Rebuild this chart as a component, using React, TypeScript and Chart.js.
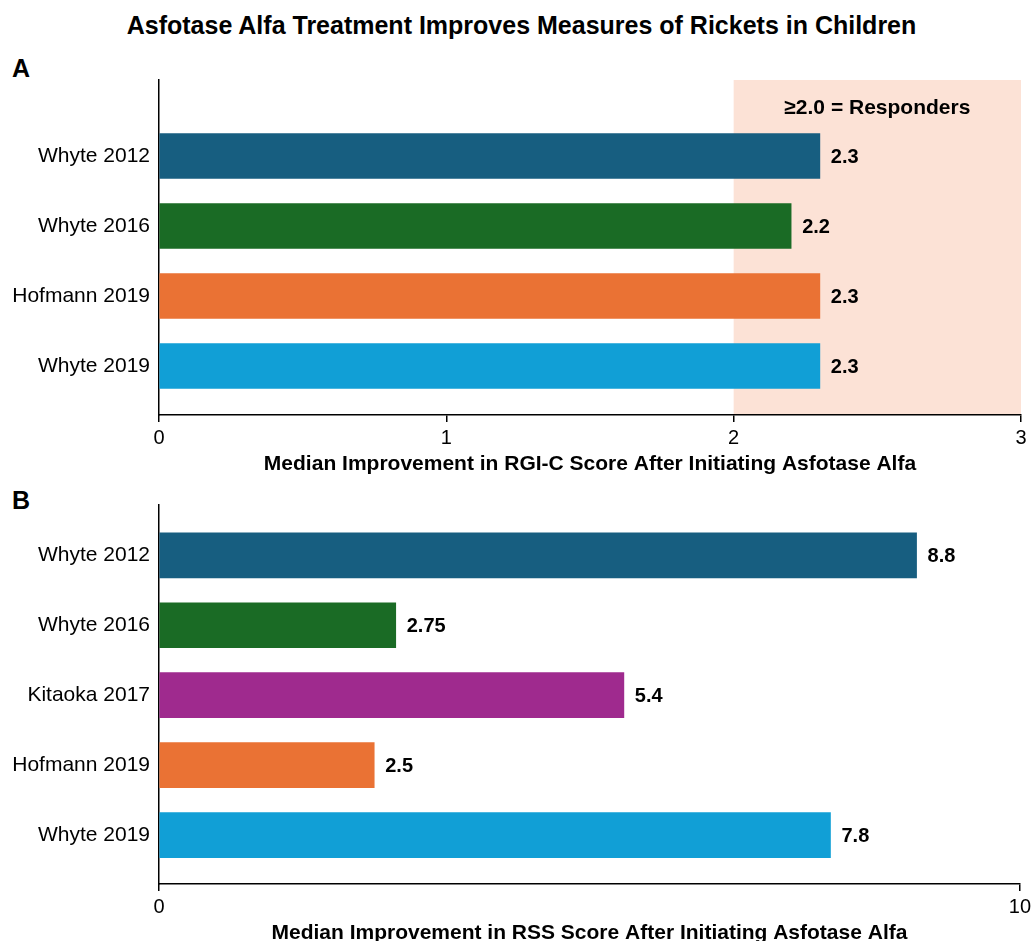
import React, { useEffect, useRef } from "react";
import { Chart, registerables } from "chart.js";

Chart.register(...registerables);

const pageTitle = "Asfotase Alfa Treatment Improves Measures of Rickets in Children";

const categoriesA = ["Whyte 2012", "Whyte 2016", "Hofmann 2019", "Whyte 2019"];
const valuesA = [2.3, 2.2, 2.3, 2.3];
const colorsA = ["#175e80", "#1a6b25", "#ea7234", "#119fd6"];
const xTicksA = [0, 1, 2, 3];
const axisTitleA = "Median Improvement in RGI-C Score After Initiating Asfotase Alfa";
const responderThreshold = 2.0;
const responderLabel = "≥2.0 = Responders";

const categoriesB = ["Whyte 2012", "Whyte 2016", "Kitaoka 2017", "Hofmann 2019", "Whyte 2019"];
const valuesB = [8.8, 2.75, 5.4, 2.5, 7.8];
const colorsB = ["#175e80", "#1a6b25", "#9f2a8e", "#ea7234", "#119fd6"];
const xTicksB = [0, 10];
const axisTitleB = "Median Improvement in RSS Score After Initiating Asfotase Alfa";

const FONT = '"Liberation Sans", Arial, Helvetica, sans-serif';

function valueLabelPlugin(values: number[]) {
  return {
    id: "valueLabels",
    afterDatasetsDraw(chart: any) {
      const ctx = chart.ctx;
      const meta = chart.getDatasetMeta(0);
      ctx.save();
      ctx.font = `bold 20px ${FONT}`;
      ctx.fillStyle = "#000";
      ctx.textAlign = "left";
      ctx.textBaseline = "middle";
      meta.data.forEach((bar: any, i: number) => {
        ctx.fillText(String(values[i]), bar.x + 11, bar.y + 1.5);
      });
      ctx.restore();
    },
  };
}

const responderPlugin = {
  id: "responders",
  beforeDraw(chart: any) {
    const { ctx, chartArea } = chart;
    const xs = chart.scales.x;
    const x0 = xs.getPixelForValue(responderThreshold);
    const x1 = xs.getPixelForValue(xs.max);
    ctx.save();
    ctx.fillStyle = "#fce2d6";
    ctx.fillRect(x0, chartArea.top, x1 - x0, chartArea.bottom - chartArea.top);
    ctx.restore();
  },
  afterDraw(chart: any) {
    const { ctx, chartArea } = chart;
    const xs = chart.scales.x;
    const x0 = xs.getPixelForValue(responderThreshold);
    const x1 = xs.getPixelForValue(xs.max);
    ctx.save();
    ctx.font = `bold 21px ${FONT}`;
    ctx.fillStyle = "#000";
    ctx.textAlign = "center";
    ctx.textBaseline = "middle";
    ctx.fillText(responderLabel, (x0 + x1) / 2, chartArea.top + 28);
    ctx.restore();
  },
};

function makeConfig(
  cats: string[],
  vals: number[],
  colors: string[],
  xTicks: number[],
  yMin: number,
  yMax: number,
  axisTitle: string,
  extra: any[]
): any {
  return {
    type: "bar",
    data: {
      datasets: [
        {
          data: vals.map((v, i) => ({ x: v, y: i })),
          backgroundColor: colors,
          borderWidth: 0,
          barThickness: 45,
        },
      ],
    },
    options: {
      indexAxis: "y",
      responsive: false,
      animation: false,
      devicePixelRatio: 1,
      layout: { padding: { top: 8, right: 14, left: 0, bottom: 0 } },
      plugins: { legend: { display: false }, tooltip: { enabled: false } },
      scales: {
        x: {
          type: "linear",
          offset: false,
          min: xTicks[0],
          max: xTicks[xTicks.length - 1],
          afterBuildTicks: (s: any) => {
            s.ticks = xTicks.map((v) => ({ value: v }));
          },
          afterFit: (s: any) => {
            s.height = 67;
          },
          grid: { offset: false, drawOnChartArea: false, drawTicks: true, tickLength: 7, color: "#000", lineWidth: 1.5 },
          border: { display: true, color: "#000", width: 1.5 },
          ticks: { font: { size: 20, family: FONT }, color: "#000", padding: 4, maxRotation: 0, autoSkip: false },
          title: {
            display: true,
            text: axisTitle,
            color: "#000",
            font: { size: 21, weight: "bold", family: FONT },
            padding: { top: 0, bottom: 5 },
          },
        },
        y: {
          type: "linear",
          offset: false,
          reverse: true,
          min: yMin,
          max: yMax,
          afterBuildTicks: (s: any) => {
            s.ticks = cats.map((_, i) => ({ value: i }));
          },
          afterFit: (s: any) => {
            s.width = 159;
            s.paddingTop = 0;
            s.paddingBottom = 0;
          },
          grid: { offset: false, display: false, drawTicks: false },
          border: { display: true, color: "#000", width: 1.5 },
          ticks: {
            callback: (v: any) => cats[v] ?? "",
            font: { size: 21, family: FONT },
            color: "#000",
            padding: 9,
            autoSkip: false,
          },
        },
      },
    },
    plugins: extra,
  };
}

function BarPanel(props: { config: () => any; top: number; height: number }) {
  const ref = useRef<HTMLCanvasElement | null>(null);
  useEffect(() => {
    if (!ref.current) return;
    const chart = new Chart(ref.current, props.config());
    return () => chart.destroy();
  }, []);
  return (
    <canvas
      ref={ref}
      width={1035}
      height={props.height}
      style={{ position: "absolute", left: 0, top: props.top, width: 1035, height: props.height }}
    />
  );
}

export default function App() {
  useEffect(() => {
    document.body.style.margin = "0";
    document.body.style.overflow = "hidden";
  }, []);
  Chart.defaults.font.family = FONT;
  Chart.defaults.color = "#000";
  const labelStyle: any = {
    position: "absolute",
    fontFamily: FONT,
    fontWeight: "bold",
    fontSize: 25,
    lineHeight: "28px",
    color: "#000",
    margin: 0,
  };
  return (
    <div style={{ position: "relative", width: 1035, height: 941, overflow: "hidden", background: "#fff" }}>
      <div style={{ ...labelStyle, left: 4, width: 1035, top: 11, textAlign: "center" }}>{pageTitle}</div>
      <div style={{ ...labelStyle, left: 12, top: 54 }}>A</div>
      <div style={{ ...labelStyle, left: 12, top: 486 }}>B</div>
      <BarPanel
        top={72}
        height={410}
        config={() =>
          makeConfig(categoriesA, valuesA, colorsA, xTicksA, -1.086, 3.7, axisTitleA, [
            responderPlugin,
            valueLabelPlugin(valuesA),
          ])
        }
      />
      <BarPanel
        top={497}
        height={454}
        config={() =>
          makeConfig(categoriesB, valuesB, colorsB, xTicksB, -0.72, 4.7, axisTitleB, [valueLabelPlugin(valuesB)])
        }
      />
    </div>
  );
}
